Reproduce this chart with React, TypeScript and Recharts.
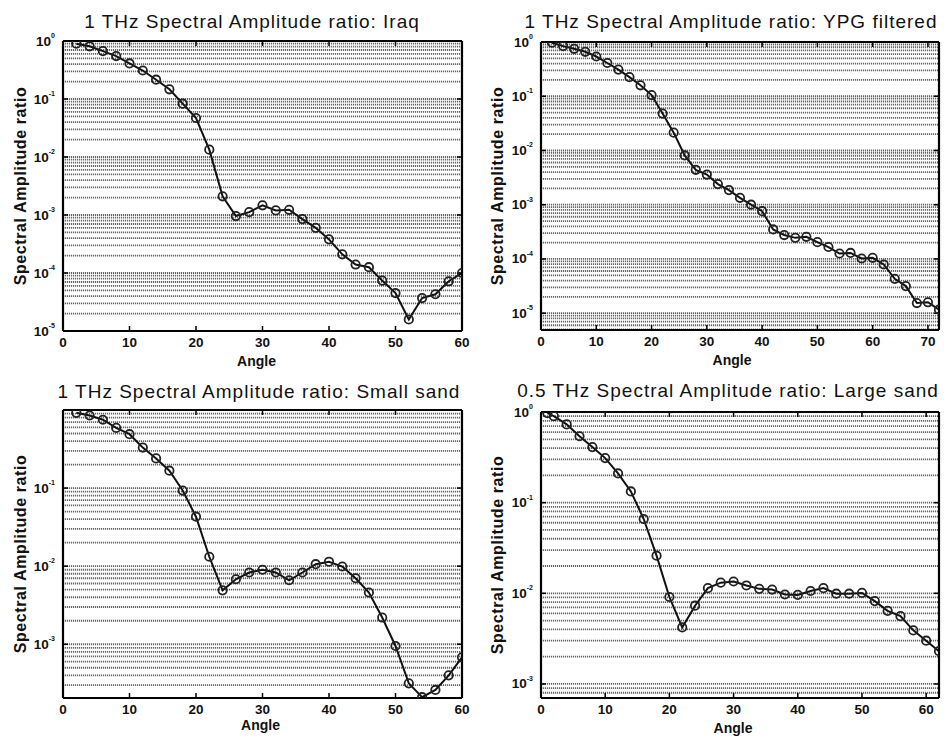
import { LineChart, Line, XAxis, YAxis, ReferenceLine } from "recharts";

const FONT = '"Liberation Sans", Arial, sans-serif';

// angles and spectral amplitude ratios
const iraqAngles = [2, 4, 6, 8, 10, 12, 14, 16, 18, 20, 22, 24, 26, 28, 30, 32, 34, 36, 38, 40, 42, 44, 46, 48, 50, 52, 54, 56, 58, 60];
const iraqValues = [
  0.9, 0.81, 0.67, 0.55, 0.41, 0.31, 0.215, 0.147, 0.083, 0.047, 0.0134, 0.0021, 0.00096, 0.00112, 0.00147,
  0.0012, 0.00123, 0.00085, 0.0006, 0.00038, 0.00021, 0.00014, 0.000126, 0.000074, 0.000045, 0.0000158,
  0.000037, 0.000043, 0.000072, 0.0001,
];

const ypgAngles = [2, 4, 6, 8, 10, 12, 14, 16, 18, 20, 22, 24, 26, 28, 30, 32, 34, 36, 38, 40, 42, 44, 46, 48, 50, 52, 54, 56, 58, 60, 62, 64, 66, 68, 70, 72];
const ypgValues = [
  0.97, 0.84, 0.75, 0.66, 0.54, 0.41, 0.31, 0.225, 0.159, 0.105, 0.048, 0.0213, 0.0081, 0.0044, 0.0036, 0.0024,
  0.00186, 0.00134, 0.001, 0.00076, 0.00035, 0.000276, 0.000245, 0.000256, 0.000204, 0.000166, 0.000126,
  0.000129, 0.000102, 0.000105, 0.000079, 0.000043, 0.0000316, 0.0000154, 0.0000159, 0.0000116,
];

const smallAngles = [2, 4, 6, 8, 10, 12, 14, 16, 18, 20, 22, 24, 26, 28, 30, 32, 34, 36, 38, 40, 42, 44, 46, 48, 50, 52, 54, 56, 58, 60];
const smallValues = [
  0.92, 0.85, 0.75, 0.59, 0.49, 0.33, 0.24, 0.167, 0.093, 0.043, 0.0132, 0.0049, 0.0068, 0.0083, 0.009, 0.0083,
  0.0066, 0.0083, 0.0106, 0.0114, 0.0099, 0.007, 0.0046, 0.0022, 0.00095, 0.000316, 0.00021, 0.00026, 0.0004,
  0.00068,
];

const largeAngles = [1, 2, 4, 6, 8, 10, 12, 14, 16, 18, 20, 22, 24, 26, 28, 30, 32, 34, 36, 38, 40, 42, 44, 46, 48, 50, 52, 54, 56, 58, 60, 62];
const largeValues = [
  0.97, 0.9, 0.73, 0.54, 0.41, 0.31, 0.21, 0.133, 0.066, 0.026, 0.0091, 0.0042, 0.0073, 0.0114, 0.0131, 0.0135,
  0.0122, 0.0112, 0.011, 0.0097, 0.0096, 0.0106, 0.0114, 0.0099, 0.0099, 0.0101, 0.0082, 0.0064, 0.0056,
  0.0039, 0.003, 0.0023,
];

const angleTicks60 = [0, 10, 20, 30, 40, 50, 60];
const angleTicks70 = [0, 10, 20, 30, 40, 50, 60, 70];
const decadeTicks5 = [1e-5, 1e-4, 1e-3, 1e-2, 1e-1, 1];
const decadeTicks3 = [1e-3, 1e-2, 1e-1];
const decadeTicks3top = [1e-3, 1e-2, 1e-1, 1];

const gridDecades = [1e-6, 1e-5, 1e-4, 1e-3, 1e-2, 1e-1];
const gridMultiples = [1, 2, 3, 4, 5, 6, 7, 8, 9];

function gridLines(lo: number) {
  const out: number[] = [];
  gridDecades.forEach((d) => gridMultiples.forEach((m) => {
    const v = m * d;
    if (v > lo && v < 1) out.push(v);
  }));
  return out;
}

const PowerTick = ({ x, y, payload }: any) => {
  const exp = Math.round(Math.log10(payload.value));
  return (
    <text x={x} y={y} textAnchor="end" dominantBaseline="central" fontFamily={FONT} fontWeight="bold" fontSize={13.5} fill="#111">
      10<tspan dy={-6} fontSize={7}>{exp}</tspan>
    </text>
  );
};

const AngleTick = ({ x, y, payload }: any) => (
  <text x={x} y={y} dy="0.71em" textAnchor="middle" fontFamily={FONT} fontWeight="bold" fontSize={13.5} fill="#111">
    {payload.value}
  </text>
);

const NoTick = () => <g />;

type PanelProps = {
  title: string;
  angles: number[];
  values: number[];
  xMax: number;
  xTicks: number[];
  yMin: number;
  yTicks: number[];
  left: number;
  top: number;
  width: number;
  height: number;
  x0: number;
  x1: number;
  y0: number;
  y1: number;
  titleTop: number;
  titleCx: number;
  yLabelOffset: number;
  angleOffset: number;
  angleDx: number;
};

function Panel(p: PanelProps) {
  const data = p.angles.map((a, i) => ({ angle: a, ratio: p.values[i] }));
  const axisH = 36;
  const margin = {
    top: p.y0 - p.top - 1,
    left: 0,
    right: p.left + p.width - p.x1 - 1,
    bottom: p.top + p.height - p.y1 - axisH,
  };
  return (
    <>
      <div
        style={{
          position: "absolute",
          left: p.titleCx - 250,
          top: p.titleTop,
          width: 500,
          textAlign: "center",
          fontFamily: FONT,
          fontSize: 19,
          lineHeight: "19px",
          letterSpacing: 1,
          color: "#111",
          whiteSpace: "nowrap",
        }}
      >
        {p.title}
      </div>
      <div style={{ position: "absolute", left: p.left, top: p.top }}>
        <LineChart width={p.width} height={p.height} data={data} margin={margin}>
          {gridLines(p.yMin).map((v) => (
            <ReferenceLine
              key={v}
              xAxisId="b"
              yAxisId="l"
              y={v}
              stroke="#666"
              strokeWidth={1.8}
              strokeDasharray="1.2 0.8"
              ifOverflow="hidden"
            />
          ))}
          <XAxis
            xAxisId="b"
            dataKey="angle"
            type="number"
            domain={[0, p.xMax]}
            ticks={p.xTicks}
            allowDataOverflow
            height={axisH}
            axisLine={{ stroke: "#000", strokeWidth: 2.2 }}
            tickLine={{ stroke: "#000", strokeWidth: 1.5 }}
            tickSize={-5}
            tickMargin={11}
            tick={<AngleTick />}
            label={{
              value: "Angle",
              position: "insideBottom",
              offset: p.angleOffset,
              dx: p.angleDx,
              style: { fontFamily: FONT, fontWeight: "bold", fontSize: 14, fill: "#111" },
            }}
          />
          <XAxis
            xAxisId="t"
            orientation="top"
            dataKey="angle"
            type="number"
            domain={[0, p.xMax]}
            ticks={p.xTicks}
            allowDataOverflow
            height={1}
            axisLine={{ stroke: "#000", strokeWidth: 2.2 }}
            tickLine={{ stroke: "#000", strokeWidth: 1.5 }}
            tickSize={-5}
            tick={<NoTick />}
          />
          <YAxis
            yAxisId="l"
            scale="log"
            type="number"
            domain={[p.yMin, 1]}
            ticks={p.yTicks}
            allowDataOverflow
            width={p.x0 - p.left}
            axisLine={{ stroke: "#000", strokeWidth: 2.2 }}
            tickLine={{ stroke: "#000", strokeWidth: 1.5 }}
            tickSize={-5}
            tickMargin={13}
            tick={<PowerTick />}
            label={{
              value: "Spectral Amplitude ratio",
              angle: -90,
              position: "insideLeft",
              offset: p.yLabelOffset,
              style: { textAnchor: "middle", fontFamily: FONT, fontWeight: "bold", fontSize: 16, letterSpacing: 0.6, fill: "#111" },
            }}
          />
          <YAxis
            yAxisId="r"
            orientation="right"
            scale="log"
            type="number"
            domain={[p.yMin, 1]}
            ticks={p.yTicks}
            allowDataOverflow
            width={1}
            axisLine={{ stroke: "#000", strokeWidth: 2.2 }}
            tickLine={{ stroke: "#000", strokeWidth: 1.5 }}
            tickSize={-5}
            tick={<NoTick />}
          />
          <Line
            xAxisId="b"
            yAxisId="l"
            dataKey="ratio"
            type="linear"
            stroke="#111"
            strokeWidth={2}
            dot={{ r: 4.2, stroke: "#222", strokeWidth: 1.8, fill: "none" }}
            isAnimationActive={false}
          />
        </LineChart>
      </div>
    </>
  );
}

export default function App() {
  return (
    <div style={{ position: "absolute", left: 0, top: 0, width: 944, height: 736, background: "#fff", overflow: "hidden" }}>
      <Panel
        title="1 THz Spectral Amplitude ratio: Iraq"
        angles={iraqAngles}
        values={iraqValues}
        xMax={60}
        xTicks={angleTicks60}
        yMin={1e-5}
        yTicks={decadeTicks5}
        left={0}
        top={0}
        width={470}
        height={370}
        x0={63}
        x1={462}
        y0={41}
        y1={331}
        titleTop={12}
        titleCx={252}
        yLabelOffset={20}
        angleOffset={1}
        angleDx={-6}
      />
      <Panel
        title="1 THz Spectral Amplitude ratio: YPG filtered"
        angles={ypgAngles}
        values={ypgValues}
        xMax={72}
        xTicks={angleTicks70}
        yMin={4.9e-6}
        yTicks={decadeTicks5}
        left={470}
        top={0}
        width={474}
        height={370}
        x0={541}
        x1={939}
        y0={42}
        y1={330}
        titleTop={12}
        titleCx={731}
        yLabelOffset={27}
        angleOffset={1.5}
        angleDx={-8}
      />
      <Panel
        title="1 THz Spectral Amplitude ratio: Small sand"
        angles={smallAngles}
        values={smallValues}
        xMax={60}
        xTicks={angleTicks60}
        yMin={2.05e-4}
        yTicks={decadeTicks3}
        left={0}
        top={370}
        width={470}
        height={366}
        x0={63}
        x1={462}
        y0={410}
        y1={698}
        titleTop={382}
        titleCx={259}
        yLabelOffset={20}
        angleOffset={4}
        angleDx={-2}
      />
      <Panel
        title="0.5 THz Spectral Amplitude ratio: Large sand"
        angles={largeAngles}
        values={largeValues}
        xMax={62}
        xTicks={angleTicks60}
        yMin={7e-4}
        yTicks={decadeTicks3top}
        left={470}
        top={370}
        width={474}
        height={366}
        x0={541}
        x1={939}
        y0={412}
        y1={698}
        titleTop={381}
        titleCx={728}
        yLabelOffset={27}
        angleOffset={1.5}
        angleDx={-7}
      />
    </div>
  );
}
